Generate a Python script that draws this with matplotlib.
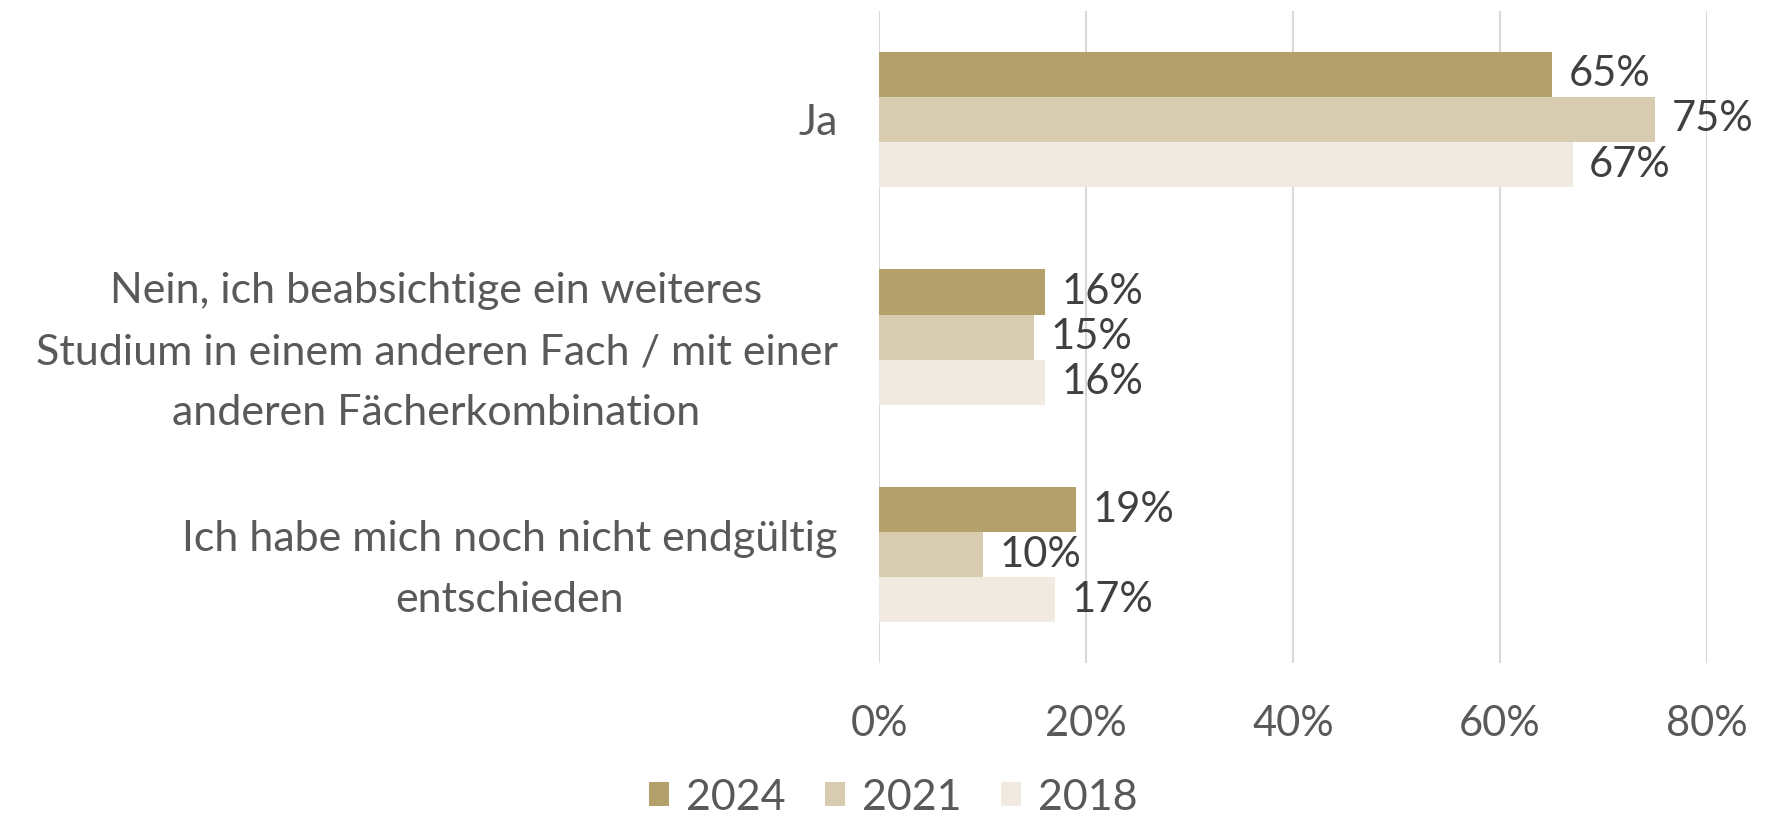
import matplotlib.pyplot as plt
import numpy as np

categories = ["Ja",
              "Nein, ich beabsichtige ein weiteres\nStudium in einem anderen Fach / mit einer\nanderen Fächerkombination",
              "Ich habe mich noch nicht endgültig\nentschieden"]
years = ["2024", "2021", "2018"]
values_2024 = [65, 16, 19]
values_2021 = [75, 15, 10]
values_2018 = [67, 16, 17]
colors = ["#B4A06A", "#D8CCB0", "#F1EAE1"]

plt.rcParams['font.family'] = ['Lato', 'DejaVu Sans']

fig = plt.figure(figsize=(17.69, 8.24), dpi=100)
ax = fig.add_axes([0.497, 0.195, 0.468, 0.792])

y = np.arange(len(categories))
h = 0.207
series = [values_2024, values_2021, values_2018]
for i, (vals, col, yr) in enumerate(zip(series, colors, years)):
    pos = y + (i - 1) * h
    bars = ax.barh(pos, vals, height=h, color=col, label=yr, zorder=2)
    for b, v in zip(bars, vals):
        ax.text(v + 1.6, b.get_y() + h / 2, f"{v}%", va="center", ha="left",
                fontsize=30, color="#404040")

ax.set_xlim(0, 80)
ax.set_ylim(2.5, -0.5)
ax.set_xticks([0, 20, 40, 60, 80])
ax.set_xticklabels([f"{t}%" for t in [0, 20, 40, 60, 80]])
ax.set_yticks(y)
ax.set_yticklabels(categories, ha="right", multialignment="center", linespacing=1.75)
ax.tick_params(axis="y", length=0, pad=30, labelsize=31, labelcolor="#595959")
ax.tick_params(axis="x", length=0, pad=30, labelsize=30, labelcolor="#595959")
ax.grid(axis="x", color="#D9D9D9", linewidth=1.5, zorder=0)
for s in ax.spines.values():
    s.set_visible(False)

handles, labels = ax.get_legend_handles_labels()
fig.legend(handles, labels, loc="lower center", bbox_to_anchor=(0.505, -0.038), ncol=3,
           frameon=False, fontsize=31, labelcolor="#595959", handlelength=0.47,
           handleheight=0.47, handletextpad=0.4, columnspacing=0.9)

fig.savefig("out.png", dpi=100)
